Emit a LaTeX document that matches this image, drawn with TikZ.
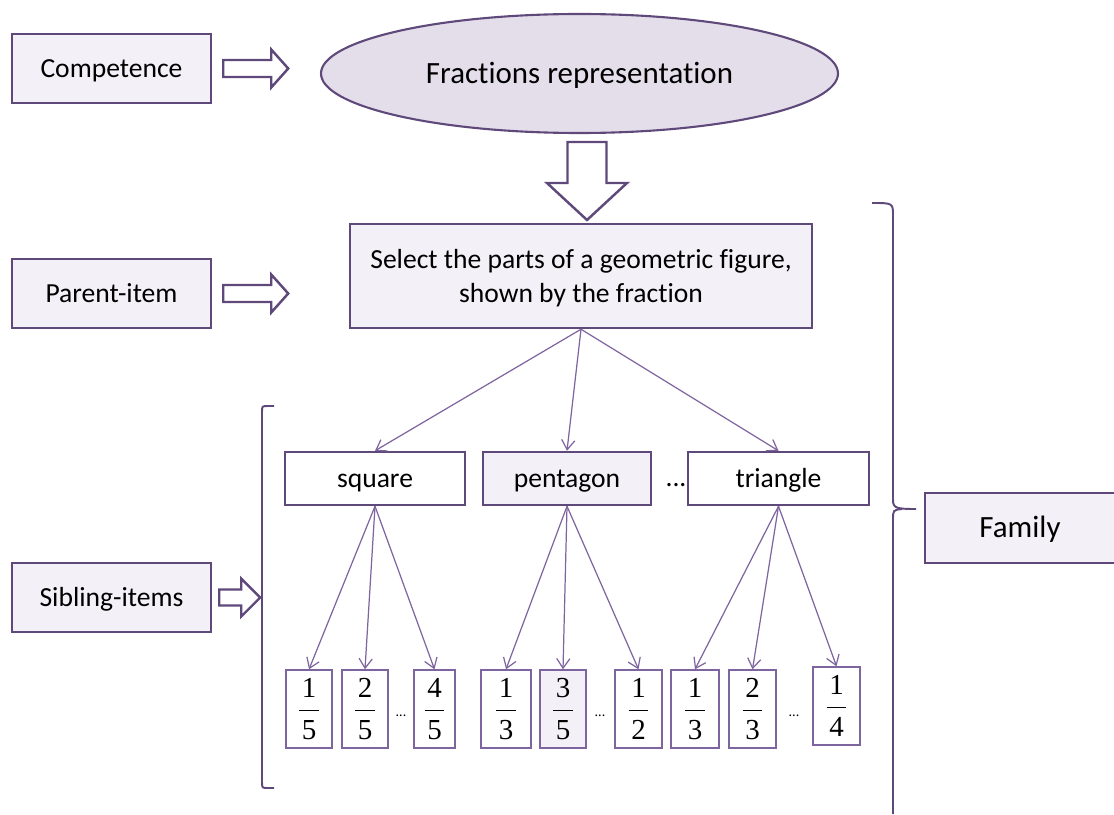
\documentclass[tikz,border=0pt]{standalone}
\usepackage{fontspec}
\setmainfont{Carlito}[Ligatures=NoCommon]
\newfontfamily\fracfont{Liberation Serif}
\usetikzlibrary{shapes.geometric, arrows.meta, positioning}

\definecolor{frame}{HTML}{5F497A}
\definecolor{wire}{HTML}{7F659F}
\definecolor{pale}{HTML}{F3F0F7}
\definecolor{lilac}{HTML}{E4DEEB}

\begin{document}
\begin{tikzpicture}[x=0.02cm, y=-0.02cm]


% GLOBAL SETTINGS
\newlength{\pxlen}
\setlength{\pxlen}{0.02cm}
\newcommand{\Lsize}{\fontsize{15.7}{19.8}\selectfont}
\newcommand{\Bsize}{\fontsize{17.6}{21}\selectfont}
\newcommand{\myfrac}[2]{$\displaystyle\frac{\mbox{\fracfont\kern1.5pt#1\kern1.5pt}}{\mbox{\fracfont\kern1.5pt#2\kern1.5pt}}$}
% block arrow: start, length, shaft half, head half, head length
\newcommand{\blockright}[5]{
\draw[blockarrow] (#1) ++(0,-#3) -- ++({#2-#5},0) -- ++(0,{#3-#4})
  -- ++(#5,#4) -- ++(-#5,#4) -- ++(0,{#3-#4}) -- ++({#5-#2},0) -- cycle;
}

\tikzset{
  tagbox/.style={draw=frame, line width=1.4pt, fill=pale, inner sep=0pt,
    minimum width=199\pxlen, minimum height=69\pxlen, font=\Lsize},
  midtext/.style={text height=13pt, text depth=3pt},
  bigtext/.style={font=\Bsize, text height=14.5pt, text depth=3.5pt},
  itembox/.style={draw=frame, line width=1.4pt, fill=white, inner sep=0pt,
    minimum height=53\pxlen, font=\Lsize, midtext},
  leafbox/.style={draw=wire, line width=0.8pt, inner sep=0pt,
    minimum height=78\pxlen, font=\fontsize{16.5}{18}\selectfont},
  blockarrow/.style={draw=frame, line width=1.4pt, fill=white, line join=miter},
  link/.style={draw=wire, line width=0.7pt, -{Straight Barb[length=5.5pt, width=7.5pt]}},
  brace/.style={draw=frame, line width=1.1pt},
}

\useasboundingbox (0,0) rectangle (1114,814);

% LEFT TAGS
\node[tagbox, midtext] (comp) at (111.5,68.5) {Competence};
\node[tagbox, midtext] (par) at (111.5,293.5) {Parent-item};
\node[tagbox, midtext] (sib) at (111.5,597.5) {Sibling-items};

% COMPETENCE & PARENT
\node[ellipse, draw=frame, line width=1.2pt, fill=lilac, inner sep=0pt,
  minimum width=517\pxlen, minimum height=119\pxlen, bigtext]
  (rep) at (579.5,73.5) {Fractions representation};
\node[tagbox, minimum width=462\pxlen, minimum height=104\pxlen, align=center,
  text depth=0pt]
  (sel) at (581,276) {Select the parts of a geometric figure,\\ shown by the fraction};
\node[tagbox, minimum width=190\pxlen, minimum height=70\pxlen, bigtext]
  (fam) at (1020,528) {Family};

% SIBLINGS
\node[itembox, minimum width=180\pxlen] (sq) at (375,478.5) {square};
\node[itembox, minimum width=168\pxlen, fill=pale] (pent) at (567,478.5) {pentagon};
\node[itembox, minimum width=181\pxlen] (tri) at (778.5,478.5) {triangle};
\node[font=\Lsize, inner sep=0pt] (gap) at (676,485) {...};

% FRACTIONS
\foreach \n/\x/\y/\w/\c/\a/\b in {1/309/709/46/white/1/5, 2/365/709/46/white/2/5,
  3/434.5/709/41/white/4/5, 4/506/709/50/white/1/3, 5/563/709/46/pale/3/5,
  6/638.5/709/47/white/1/2, 7/695/709/48/white/1/3, 8/752.5/709/47/white/2/3,
  9/836.5/706/47/white/1/4} {
\node[leafbox, fill=\c, minimum width=\w\pxlen] (F\n) at (\x,\y) {\myfrac{\a}{\b}};
}
\foreach \n/\x in {a/401, b/600, c/794} {
\node[font=\fontsize{8}{9}\selectfont, inner sep=0pt] (dots\n) at (\x,716) {...};
}

% EDGES
\foreach \t in {sq, pent, tri} {
\draw[link] (sel.south) -- (\t.north);
}
\foreach \j in {1,2,3} { \draw[link] (sq.south) -- (F\j.north); }
\foreach \j in {4,5,6} { \draw[link] (pent.south) -- (F\j.north); }
\foreach \j in {7,8,9} { \draw[link] (tri.south) -- (F\j.north); }

% BLOCK ARROWS
\blockright{[xshift=11\pxlen]comp.east}{65}{8.5}{19}{17}
\blockright{[xshift=11\pxlen]par.east}{65}{8.5}{19}{17}
\blockright{[xshift=7\pxlen]sib.east}{41}{8}{19}{19}
\coordinate (dtop) at (587,142);
\draw[blockarrow] (dtop) ++(-19.5,0) -- ++(39,0) -- ++(0,41) -- ++(20.5,0)
  -- ++(-40,37) -- ++(-40,-37) -- ++(20.5,0) -- cycle;

% BRACES
\draw[brace] (274,406) -- (268,406) .. controls (262,406) .. (262,412)
  -- (262,782) .. controls (262,788) .. (268,788) -- (274,788);
\draw[brace] (872,203) .. controls (893,203) .. (893,216) -- (893,500)
  .. controls (893,508) and (896,509) .. (916,509);
\draw[brace] (902,509) .. controls (893,510) .. (893,520) -- (893,814);

\end{tikzpicture}
\end{document}
